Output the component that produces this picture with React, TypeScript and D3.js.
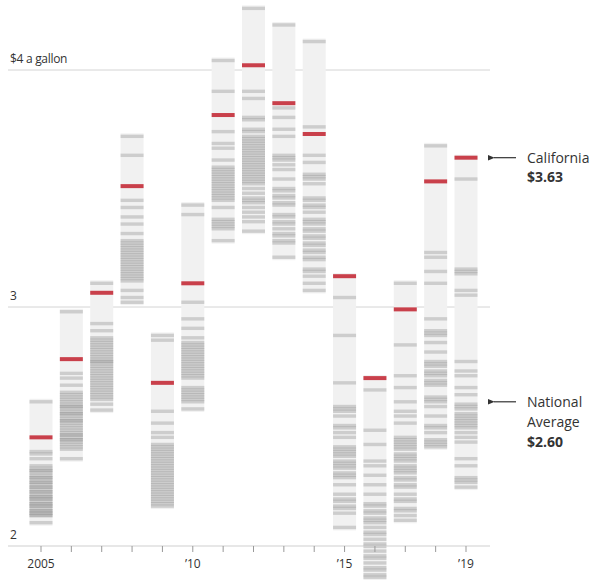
import React from "react";
import * as d3 from "d3";

const years = [2005, 2006, 2007, 2008, 2009, 2010, 2011, 2012, 2013, 2014, 2015, 2016, 2017, 2018, 2019];
const yearLabels: Record<number, string> = { 2005: "2005", 2010: "\u201910", 2015: "\u201915", 2019: "\u201919" };
const yTicks = [2, 3, 4];
const yTickLabels = ["2", "3", "$4 a gallon"];

const california = [2.45, 2.78, 3.06, 3.51, 2.68, 3.10, 3.81, 4.02, 3.86, 3.73, 3.13, 2.70, 2.99, 3.53, 3.63];

const p2005 = [2.60, 2.39, 2.38, 2.36, 2.33, 2.32, 2.31, 2.31, 2.30, 2.29, 2.28, 2.28, 2.27, 2.26, 2.26, 2.25, 2.24, 2.24, 2.23, 2.22, 2.22, 2.21, 2.20, 2.20, 2.19, 2.19, 2.18, 2.17, 2.17, 2.16, 2.16, 2.15, 2.14, 2.14, 2.13, 2.13, 2.12, 2.12, 2.09];
const p2006 = [2.98, 2.72, 2.70, 2.67, 2.64, 2.63, 2.62, 2.61, 2.60, 2.59, 2.58, 2.58, 2.57, 2.56, 2.55, 2.55, 2.54, 2.53, 2.52, 2.52, 2.51, 2.50, 2.49, 2.48, 2.47, 2.46, 2.46, 2.45, 2.44, 2.44, 2.43, 2.42, 2.41, 2.40, 2.36];
const p2007 = [3.10, 2.93, 2.90, 2.87, 2.86, 2.85, 2.84, 2.83, 2.82, 2.81, 2.80, 2.79, 2.78, 2.77, 2.77, 2.76, 2.75, 2.74, 2.73, 2.72, 2.71, 2.70, 2.69, 2.68, 2.67, 2.66, 2.65, 2.64, 2.63, 2.62, 2.61, 2.59, 2.565];
const p2008 = [3.72, 3.64, 3.45, 3.42, 3.38, 3.35, 3.31, 3.28, 3.27, 3.26, 3.25, 3.24, 3.23, 3.22, 3.21, 3.20, 3.19, 3.18, 3.17, 3.16, 3.15, 3.14, 3.13, 3.12, 3.11, 3.07, 3.04, 3.02];
const p2009 = [2.88, 2.86, 2.56, 2.51, 2.47, 2.45, 2.42, 2.41, 2.40, 2.39, 2.38, 2.37, 2.36, 2.35, 2.34, 2.33, 2.32, 2.31, 2.30, 2.29, 2.28, 2.27, 2.26, 2.25, 2.24, 2.23, 2.22, 2.21, 2.20, 2.19, 2.18, 2.17, 2.16];
const p2010 = [3.43, 3.39, 3.02, 2.95, 2.91, 2.87, 2.85, 2.84, 2.83, 2.82, 2.81, 2.80, 2.79, 2.78, 2.77, 2.76, 2.75, 2.74, 2.73, 2.72, 2.71, 2.70, 2.66, 2.65, 2.64, 2.63, 2.62, 2.61, 2.60, 2.57];
const p2011 = [4.04, 3.91, 3.74, 3.69, 3.67, 3.62, 3.59, 3.58, 3.57, 3.56, 3.55, 3.54, 3.53, 3.52, 3.51, 3.50, 3.49, 3.48, 3.47, 3.46, 3.45, 3.42, 3.37, 3.36, 3.35, 3.34, 3.33, 3.28];
const p2012 = [4.26, 3.91, 3.88, 3.80, 3.79, 3.75, 3.74, 3.72, 3.71, 3.70, 3.69, 3.68, 3.67, 3.66, 3.65, 3.64, 3.63, 3.62, 3.61, 3.60, 3.59, 3.58, 3.57, 3.56, 3.55, 3.54, 3.53, 3.52, 3.50, 3.48, 3.46, 3.45, 3.44, 3.42, 3.40, 3.38, 3.36, 3.32];
const p2013 = [4.19, 3.84, 3.80, 3.75, 3.72, 3.64, 3.63, 3.62, 3.60, 3.58, 3.54, 3.50, 3.49, 3.47, 3.46, 3.44, 3.43, 3.39, 3.38, 3.36, 3.35, 3.33, 3.31, 3.30, 3.28, 3.27, 3.21];
const p2014 = [4.12, 3.76, 3.64, 3.61, 3.56, 3.55, 3.54, 3.52, 3.46, 3.45, 3.43, 3.42, 3.40, 3.37, 3.36, 3.35, 3.33, 3.32, 3.30, 3.29, 3.27, 3.26, 3.24, 3.23, 3.21, 3.20, 3.16, 3.15, 3.13, 3.10, 3.07];
const p2015 = [3.04, 2.88, 2.68, 2.58, 2.57, 2.56, 2.54, 2.50, 2.49, 2.47, 2.45, 2.41, 2.40, 2.39, 2.38, 2.37, 2.35, 2.34, 2.33, 2.32, 2.30, 2.29, 2.28, 2.25, 2.21, 2.19, 2.18, 2.16, 2.15, 2.13, 2.07];
const p2016 = [2.65, 2.48, 2.42, 2.35, 2.33, 2.29, 2.25, 2.21, 2.17, 2.16, 2.14, 2.13, 2.11, 2.10, 2.09, 2.07, 2.05, 2.04, 2.02, 2.00, 1.99, 1.97, 1.95, 1.94, 1.92, 1.90, 1.89, 1.87, 1.86];
const p2017 = [3.10, 2.84, 2.71, 2.66, 2.60, 2.56, 2.54, 2.51, 2.45, 2.44, 2.43, 2.42, 2.41, 2.40, 2.38, 2.37, 2.36, 2.35, 2.33, 2.32, 2.31, 2.30, 2.28, 2.27, 2.25, 2.24, 2.21, 2.19, 2.18, 2.15, 2.14, 2.12, 2.10];
const p2018 = [3.68, 3.23, 3.21, 3.15, 3.10, 2.95, 2.90, 2.89, 2.88, 2.85, 2.81, 2.77, 2.76, 2.75, 2.73, 2.72, 2.71, 2.69, 2.68, 2.67, 2.62, 2.61, 2.60, 2.58, 2.54, 2.50, 2.49, 2.47, 2.44, 2.43, 2.42, 2.41];
const p2019 = [3.54, 3.16, 3.15, 3.14, 3.07, 3.05, 2.77, 2.73, 2.71, 2.66, 2.63, 2.59, 2.58, 2.57, 2.55, 2.54, 2.53, 2.52, 2.51, 2.50, 2.49, 2.47, 2.45, 2.43, 2.36, 2.33, 2.28, 2.27, 2.26, 2.24];

const statePrices = [p2005, p2006, p2007, p2008, p2009, p2010, p2011, p2012, p2013, p2014, p2015, p2016, p2017, p2018, p2019];

const caLabel = "California";
const caValue = 3.63;
const natLabel = ["National", "Average"];
const natValue = 2.60;

const W = 607;
const H = 580;
const FONT = "'Open Sans', 'Noto Sans', sans-serif";
const TEXT = "#333";

export default function App() {
  const x = d3.scalePoint<number>().domain(years).range([41, 466]);
  const y = d3.scaleLinear().domain([2, 4]).range([544, 70]);
  const colW = 23;
  const axisY = y(2) + 2;

  return (
    <svg width={W} height={H} style={{ position: "absolute", left: 0, top: 0, display: "block" }}>
      <rect x={0} y={0} width={W} height={H} fill="#fff" />
      {yTicks.map((t, i) => (
        <g key={t}>
          {t !== 2 && <line x1={8} x2={490} y1={y(t)} y2={y(t)} stroke="#d4d4d4" strokeWidth={1} />}
          <text x={10} y={(t === 2 ? axisY : y(t)) - 7} fontFamily={FONT} fontSize={12} fill={TEXT} letterSpacing={-0.3}>
            {yTickLabels[i]}
          </text>
        </g>
      ))}
      {years.map((yr, i) => {
        const all = [...statePrices[i], california[i]];
        const [mn, mx] = d3.extent(all) as [number, number];
        const cx = x(yr)!;
        return (
          <g key={yr}>
            <rect x={cx - colW / 2} y={y(mx) - 3} width={colW} height={y(mn) - y(mx) + 6} fill="#f1f1f1" />
            {statePrices[i].map((v, j) => (
              <rect key={j} x={cx - colW / 2} y={y(v) - 1.7} width={colW} height={3.4} fill="#9c9c9c" fillOpacity={0.42} />
            ))}
            <rect x={cx - colW / 2} y={y(california[i]) - 2} width={colW} height={4} fill="#c9404b" />
          </g>
        );
      })}
      <line x1={8} x2={490} y1={axisY} y2={axisY} stroke="#cfcfcf" strokeWidth={1} />
      {years.map((yr) => (
        <g key={yr}>
          <line x1={x(yr)!} x2={x(yr)!} y1={axisY} y2={axisY + 6} stroke="#999" strokeWidth={1} />
          {yearLabels[yr] && (
            <text x={x(yr)!} y={axisY + 22} textAnchor="middle" fontFamily={FONT} fontSize={12} fill={TEXT}>
              {yearLabels[yr]}
            </text>
          )}
        </g>
      ))}
      <defs>
        <marker id="arr" viewBox="0 0 10 10" refX={1} refY={5} markerWidth={6} markerHeight={6} orient="auto">
          <path d="M10,1 L0,5 L10,9 Z" fill={TEXT} />
        </marker>
      </defs>
      <line x1={516} x2={494} y1={y(caValue)} y2={y(caValue)} stroke={TEXT} strokeWidth={1.2} markerEnd="url(#arr)" />
      <text x={527} y={y(caValue) + 5} fontFamily={FONT} fontSize={14} fill={TEXT}>{caLabel}</text>
      <text x={527} y={y(caValue) + 24} fontFamily={FONT} fontSize={14} fontWeight="bold" fill={TEXT}>
        {"$" + caValue.toFixed(2)}
      </text>
      <line x1={516} x2={494} y1={y(natValue)} y2={y(natValue)} stroke={TEXT} strokeWidth={1.2} markerEnd="url(#arr)" />
      <text x={527} y={y(natValue) + 5} fontFamily={FONT} fontSize={14} fill={TEXT}>{natLabel[0]}</text>
      <text x={527} y={y(natValue) + 25} fontFamily={FONT} fontSize={14} fill={TEXT}>{natLabel[1]}</text>
      <text x={527} y={y(natValue) + 45} fontFamily={FONT} fontSize={14} fontWeight="bold" fill={TEXT}>
        {"$" + natValue.toFixed(2)}
      </text>
    </svg>
  );
}
